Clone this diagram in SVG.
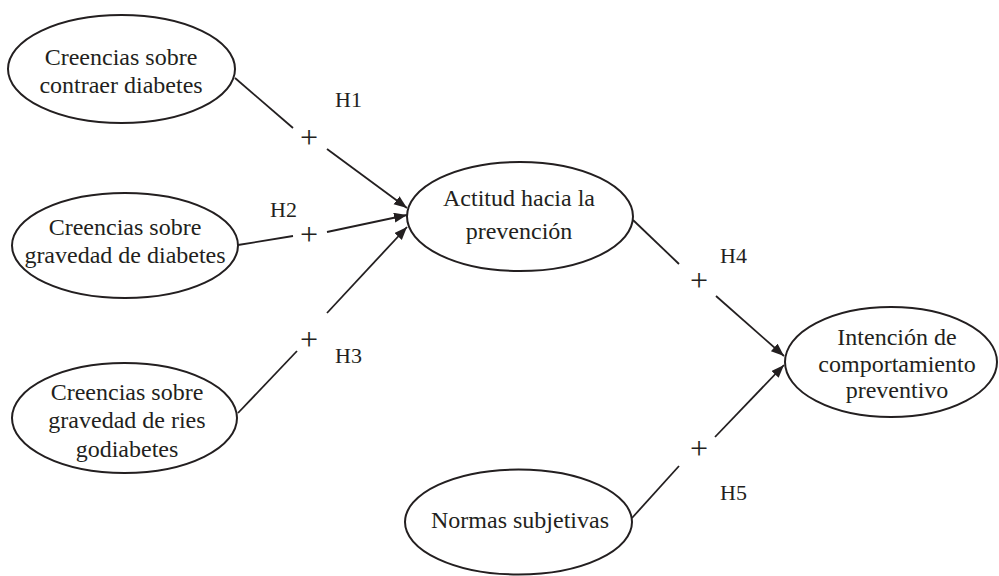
<svg xmlns="http://www.w3.org/2000/svg" width="999" height="576" viewBox="0 0 999 576">
<style>
  .node ellipse { fill: #ffffff; stroke: #231f20; stroke-width: 2; }
  .node text { font-family: "Liberation Serif", "Times New Roman", serif; font-size: 24px; fill: #231f20; text-anchor: middle; }
  .conn line { stroke: #231f20; stroke-width: 1.8; fill: none; }
  .conn .arrow { marker-end: url(#ah); }
  .lbl { font-family: "Liberation Serif", "Times New Roman", serif; font-size: 22px; fill: #231f20; }
  .plus { font-family: "Liberation Serif", "Times New Roman", serif; font-size: 32px; fill: #231f20; text-anchor: middle; }
</style>
<defs>
  <marker id="ah" markerUnits="userSpaceOnUse" markerWidth="14" markerHeight="12" refX="13" refY="5" orient="auto">
    <path d="M0,0 L13,5 L0,10 z" fill="#231f20"/>
  </marker>
</defs>
<rect width="999" height="576" fill="#ffffff"/>

<g id="connectors" class="conn">
  <line x1="235" y1="78" x2="293" y2="128"/>
  <line class="arrow" x1="327" y1="149" x2="407" y2="208"/>
  <line x1="238" y1="245" x2="293" y2="236"/>
  <line class="arrow" x1="327" y1="232" x2="407" y2="215"/>
  <line x1="238" y1="413" x2="297" y2="351"/>
  <line class="arrow" x1="327" y1="313" x2="407" y2="227"/>
  <line x1="633" y1="220" x2="679" y2="264"/>
  <line class="arrow" x1="716" y1="296" x2="784" y2="356"/>
  <line x1="632" y1="518" x2="679" y2="466"/>
  <line class="arrow" x1="715" y1="437" x2="784" y2="365"/>
  <text class="plus" x="309" y="148">+</text>
  <text class="plus" x="309" y="245">+</text>
  <text class="plus" x="309" y="350">+</text>
  <text class="plus" x="699" y="291">+</text>
  <text class="plus" x="699" y="459">+</text>
  <text class="lbl" x="335" y="107">H1</text>
  <text class="lbl" x="270" y="217">H2</text>
  <text class="lbl" x="335" y="363">H3</text>
  <text class="lbl" x="720" y="263">H4</text>
  <text class="lbl" x="720" y="500">H5</text>
</g>

<g id="n1" class="node">
  <ellipse cx="121.5" cy="69" rx="113.5" ry="54"/>
  <text x="121" y="65">Creencias sobre</text>
  <text x="121" y="93">contraer diabetes</text>
</g>
<g id="n2" class="node">
  <ellipse cx="125" cy="245.5" rx="113" ry="52.5"/>
  <text x="125" y="235">Creencias sobre</text>
  <text x="125" y="263">gravedad de diabetes</text>
</g>
<g id="n3" class="node">
  <ellipse cx="124.5" cy="418" rx="112.5" ry="55"/>
  <text x="127" y="400">Creencias sobre</text>
  <text x="127" y="428">gravedad de ries</text>
  <text x="127" y="457">godiabetes</text>
</g>
<g id="n4" class="node">
  <ellipse cx="520" cy="216.5" rx="113" ry="54.5"/>
  <text x="519" y="206">Actitud hacia la</text>
  <text x="519" y="239">prevención</text>
</g>
<g id="n5" class="node">
  <ellipse cx="891" cy="362" rx="106" ry="55"/>
  <text x="897" y="345">Intención de</text>
  <text x="897" y="372">comportamiento</text>
  <text x="897" y="398">preventivo</text>
</g>
<g id="n6" class="node">
  <ellipse cx="518.5" cy="522" rx="113.5" ry="52.5"/>
  <text x="520" y="528">Normas subjetivas</text>
</g>
</svg>
